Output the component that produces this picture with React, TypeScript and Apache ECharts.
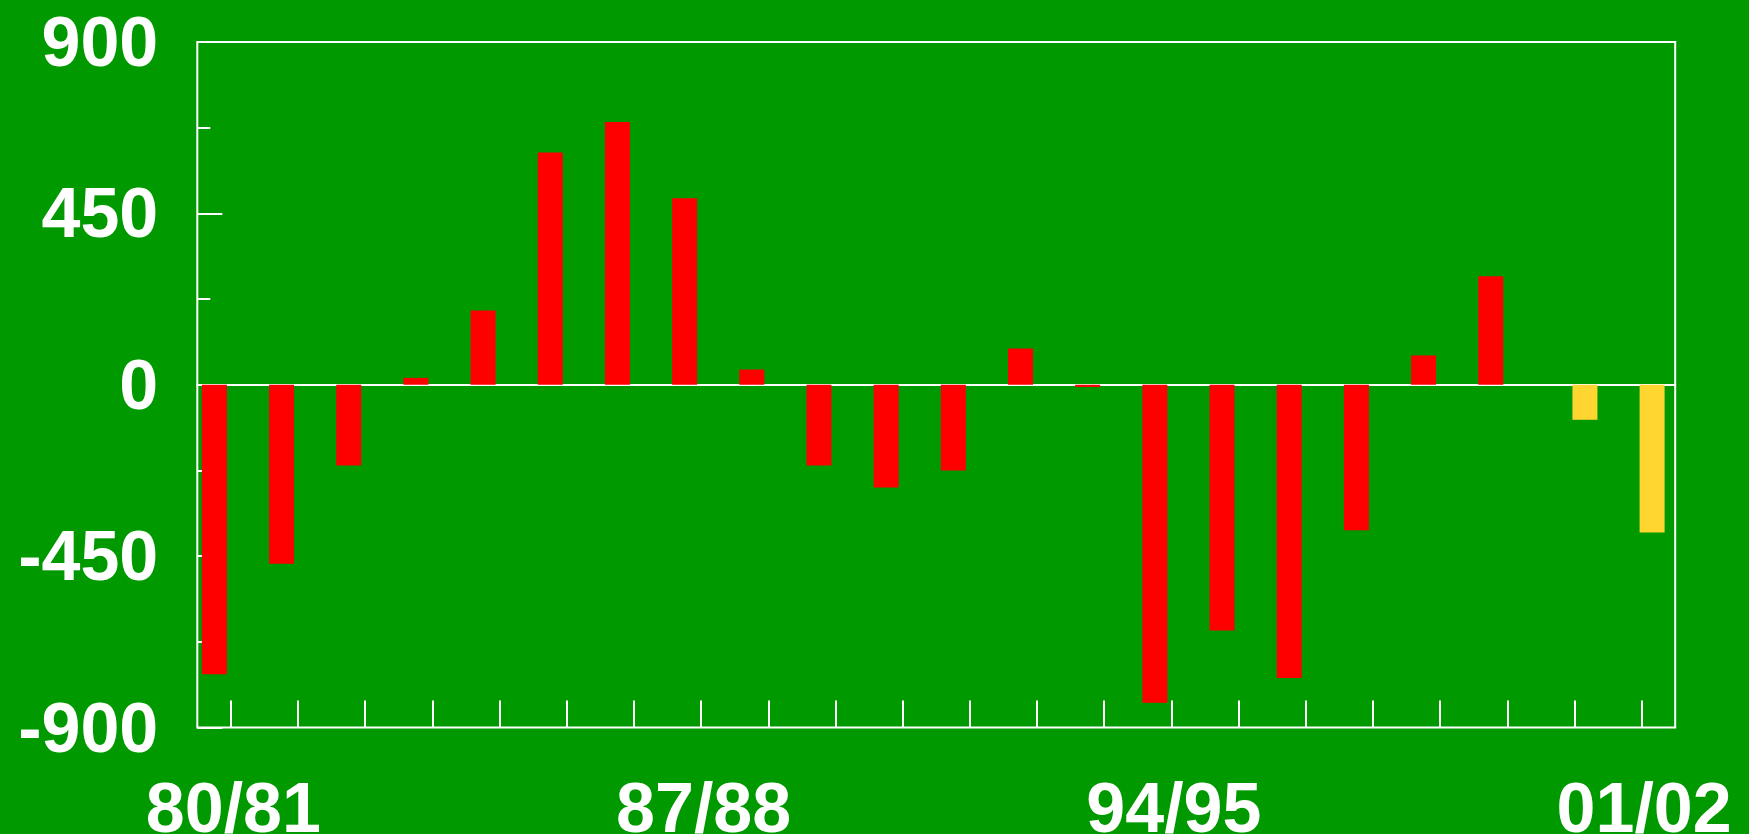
import React, { useEffect, useRef } from 'react';
import * as echarts from 'echarts';

const seasons = [
  '80/81', '81/82', '82/83', '83/84', '84/85', '85/86', '86/87', '87/88',
  '88/89', '89/90', '90/91', '91/92', '92/93', '93/94', '94/95', '95/96',
  '96/97', '97/98', '98/99', '99/00', '00/01', '01/02',
];
// Red bars (recorded seasons)
const actualValues = [
  -760, -470, -212, 18, 195, 610, 690, 490, 40, -212,
  -270, -225, 95, -6, -835, -645, -770, -382, 77, 285,
];
// Yellow bars (last two seasons)
const forecastValues = [-92, -388];
const yMin = -900;
const yMax = 900;
const yStep = 450;

export default function App() {
  const ref = useRef<HTMLDivElement>(null);
  useEffect(() => {
    document.body.style.margin = '0';
    const chart = echarts.init(ref.current as HTMLDivElement, null, { renderer: 'svg' });
    const nA = actualValues.length;
    const redData = seasons.map((_, i) => (i < nA ? actualValues[i] : '-'));
    const yellowData = seasons.map((_, i) => (i >= nA ? forecastValues[i - nA] : '-'));
    const font = {
      color: '#ffffff',
      fontFamily: '"Liberation Sans", Arial, sans-serif',
      fontWeight: 'bold' as const,
      fontSize: 70,
    };
    chart.setOption({
      animation: false,
      backgroundColor: '#009900',
      grid: {
        left: 197.3,
        right: 73.8,
        top: 42,
        bottom: 106.5,
        show: true,
        borderColor: '#ffffff',
        borderWidth: 2,
        backgroundColor: 'transparent',
        containLabel: false,
        outerBoundsMode: 'none',
      },
      xAxis: [
        {
          type: 'category',
          data: seasons,
          position: 'bottom',
          boundaryGap: true,
          axisLine: { show: false, onZero: false },
          axisTick: {
            show: true,
            inside: true,
            length: 27,
            interval: 0,
            alignWithLabel: true,
            lineStyle: { color: '#ffffff', width: 2 },
          },
          axisLabel: { interval: 6, margin: 60, lineHeight: 40, padding: [0, 0, 0, 5], ...font },
          splitLine: { show: false },
        },
        {
          type: 'category',
          data: seasons,
          position: 'top',
          axisLine: { show: true, onZero: true, lineStyle: { color: '#ffffff', width: 2 } },
          axisTick: { show: false },
          axisLabel: { show: false },
          splitLine: { show: false },
        },
      ],
      yAxis: {
        type: 'value',
        min: yMin,
        max: yMax,
        interval: yStep,
        axisLine: { show: false },
        axisTick: { show: true, inside: true, length: 25, lineStyle: { color: '#ffffff', width: 2 } },
        minorTick: { show: true, splitNumber: 2, length: 13, lineStyle: { color: '#ffffff', width: 2 } },
        axisLabel: { margin: 39, lineHeight: 70, ...font },
        splitLine: { show: false },
        minorSplitLine: { show: false },
      },
      series: [
        {
          type: 'bar',
          name: 'actual',
          xAxisIndex: 0,
          data: redData,
          barWidth: 25,
          barGap: '8%',
          itemStyle: { color: '#ff0000' },
        },
        {
          type: 'bar',
          name: 'forecast',
          xAxisIndex: 0,
          data: yellowData,
          barWidth: 25,
          barGap: '8%',
          itemStyle: { color: '#ffd530' },
        },
        {
          type: 'bar',
          name: 'spacer',
          xAxisIndex: 0,
          data: [],
          barWidth: 4,
          barGap: '8%',
          silent: true,
        },
      ],
    });
    return () => chart.dispose();
  }, []);
  return (
    <div
      ref={ref}
      style={{ position: 'fixed', left: 0, top: 0, width: '1749px', height: '834px' }}
    />
  );
}
